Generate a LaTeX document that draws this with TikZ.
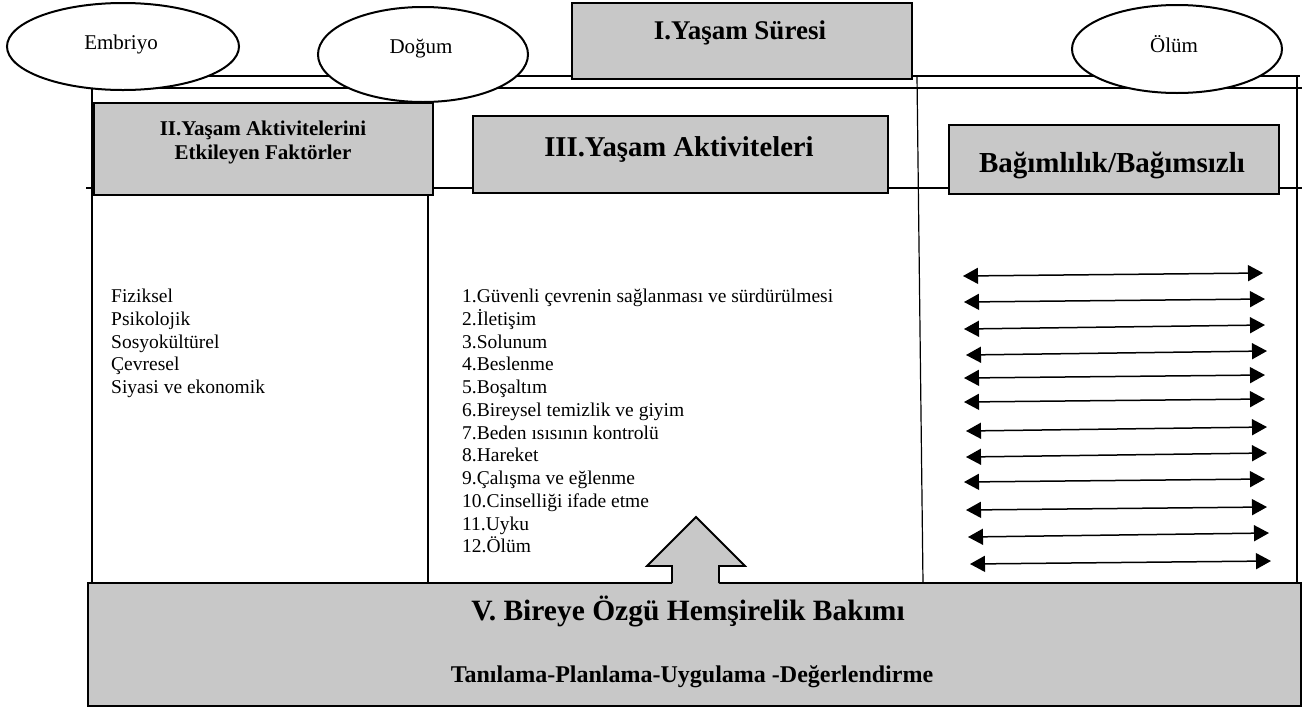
\documentclass[tikz,border=0pt]{standalone}
\usepackage{fontspec}
\setmainfont{Liberation Serif}
\usetikzlibrary{arrows.meta,shapes.geometric}
\definecolor{BoxGray}{RGB}{200,200,200}
\tikzset{
  framebox/.style={draw,line width=2.6pt,fill=BoxGray,inner sep=0pt},
  lifeoval/.style={draw,ellipse,line width=2pt,fill=white,inner sep=0pt},
  ovaltext/.style={anchor=base,inner sep=0pt,font=\fontsize{21}{24}\selectfont},
  boxtext/.style={anchor=base,inner sep=0pt,font=\fontsize{#1}{#1}\selectfont\bfseries},
  itemtext/.style={anchor=base west,inner sep=0pt,font=\fontsize{19.5}{22}\selectfont},
  twoway/.style={{Triangle[length=15pt,width=16pt]}-{Triangle[length=15pt,width=16pt]},line width=1.5pt}
}
\begin{document}
\begin{tikzpicture}[x=1pt,y=-1pt]
      \useasboundingbox (0,0) rectangle (1302,713);
      \draw[line width=2pt] (123,76) -- (1300,76);
      \draw[line width=1.2pt] (92,88) -- (1302,88);
      \draw[line width=1.8pt] (92,88) -- (92,583);
      \draw[line width=1.2pt] (86,188) -- (1302,188);
      \draw[line width=1.2pt] (428,188) -- (428,583);
      \draw[line width=1.2pt] (917,76) -- (923,583);
      \draw[line width=1.5pt] (1297,76) -- (1297,583);
      \node[framebox,minimum width=340pt,minimum height=76pt] (span) at (742,41) {};
      \node[framebox,minimum width=339pt,minimum height=92pt] (factors) at (263.5,149) {};
      \node[framebox,minimum width=415pt,minimum height=77pt] (activities) at (680.5,154.5) {};
      \node[framebox,minimum width=330pt,minimum height=69pt] (dependence) at (1114,159.5) {};
      \node[framebox,minimum width=1213pt,minimum height=123pt,line width=2.8pt] (care) at (694.5,644.5) {};
      \node[lifeoval,minimum width=232pt,minimum height=87pt] (embriyo) at (123,46.5) {};
      \node[lifeoval,minimum width=210pt,minimum height=95pt] (dogum) at (423,54.5) {};
      \node[lifeoval,minimum width=210pt,minimum height=88pt] (olum) at (1177,49) {};
      \node[ovaltext] (embriyotext) at (121,49.5) {Embriyo};
      \node[ovaltext] (dogumtext) at (421,53) {Doğum};
      \node[ovaltext] (olumtext) at (1174,52) {Ölüm};
      \node[boxtext=27] (spantext) at (740,39) {I.Yaşam Süresi};
      \node[boxtext=21,anchor=north,align=center,font=\fontsize{21}{24}\selectfont\bfseries] (factorstext) at (263,121) {II.Yaşam Aktivitelerini\\Etkileyen Faktörler};
      \node[boxtext=28.7] (activitiestext) at (679,156.5) {III.Yaşam Aktiviteleri};
      \node[boxtext=29] (dependencetext) at (1112,172) {Bağımlılık/Bağımsızlı};
      \node[boxtext=29.5] (caretitle) at (688,620) {V. Bireye Özgü Hemşirelik Bakımı};
      \node[boxtext=24] (carestages) at (692,682) {Tanılama-Planlama-Uygulama -Değerlendirme};
      \foreach \item [count=\i] in {Fiziksel,Psikolojik,Sosyokültürel,Çevresel,Siyasi ve ekonomik}
        \node[itemtext] (factor\i) at ({111},{302.5+22.75*(\i-1)}) {\item};
      \foreach \item [count=\i] in {1.Güvenli çevrenin sağlanması ve sürdürülmesi,2.İletişim,3.Solunum,4.Beslenme,5.Boşaltım,6.Bireysel temizlik ve giyim,7.Beden ısısının kontrolü,8.Hareket,9.Çalışma ve eğlenme,10.Cinselliği ifade etme,11.Uyku,12.Ölüm}
        \node[itemtext] (activity\i) at ({462},{302.5+22.75*(\i-1)}) {\item};
      \fill[BoxGray] (672,586) -- (672,566) -- (647,566) -- (696,517) -- (745,566) -- (719,566) -- (719,586) -- cycle;
      \draw[line width=1.8pt,line join=miter] (672,583) -- (672,566) -- (647,566) -- (696,517) -- (745,566) -- (719,566) -- (719,583);
      \foreach \xl/\yl/\xr/\yr [count=\k] in {963/276/1263/273,964/302/1265/299,964/329/1265/325,966/355/1267/351,964/378/1265/375,964/402/1265/399,966/431/1267/427,966/457/1267/453,964/482/1265/479,966/510/1267/507,968/537/1269/533,970/564/1271/561}
      {
        \coordinate (left\k) at (\xl,\yl);
        \coordinate (right\k) at (\xr,\yr);
        \draw[twoway] (left\k) -- (right\k);
      }
    \end{tikzpicture}
\end{document}
